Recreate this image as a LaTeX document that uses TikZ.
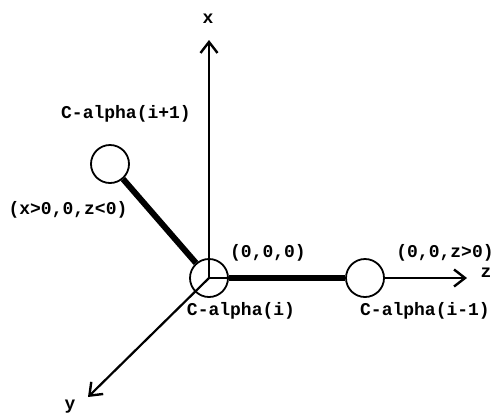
\documentclass[tikz,border=0pt]{standalone}
\usepackage{fontspec}
\setmonofont{Liberation Mono}
\usetikzlibrary{arrows.meta}
\begin{document}
\begin{tikzpicture}[x=1pt,y=-1pt,
  lbl/.style={font=\ttfamily\bfseries\fontsize{18}{20}\selectfont, inner sep=0pt},
  atom/.style={circle, draw, line width=1.8pt, minimum size=38pt, inner sep=0pt},
  axis/.style={line width=2.2pt, -{Straight Barb[length=11pt,width=17pt,line width=2.4pt]}},
  bond/.style={line width=6pt}]
\useasboundingbox (0,0) rectangle (497,416);
\coordinate (o) at (209,278);
\coordinate (xtip) at (209,40);
\coordinate (ztip) at (467,278);
\coordinate (ytip) at (88,397);
\draw[axis] (o) -- (xtip);
\draw[axis] (o) -- (ztip);
\draw[axis] (o) -- (ytip);
\node[atom] (ci) at (o) {};
\node[atom, fill=white] (cim) at (365,278) {};
\node[atom] (cip) at (110,164) {};
\draw[bond] (cip) -- (ci);
\draw[bond] (ci) -- (cim);
\node[lbl] (lx) at (208,19) {x};
\node[lbl] (lz) at (486,273) {z};
\node[lbl] (ly) at (70,407) {y};
\node[lbl] (lcip) at (126,114) {C-alpha(i+1)};
\node[lbl] (lneg) at (68,210) {(x>0,0,z<0)};
\node[lbl] (lo) at (268,253) {(0,0,0)};
\node[lbl] (lpos) at (445,253) {(0,0,z>0)};
\node[lbl] (lci) at (241,311) {C-alpha(i)};
\node[lbl] (lcim) at (425,311) {C-alpha(i-1)};
\end{tikzpicture}
\end{document}
